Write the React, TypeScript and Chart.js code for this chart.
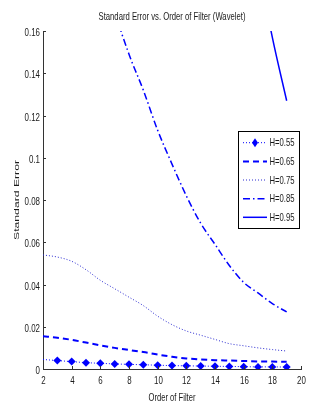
import React, { useEffect, useRef } from "react";
import { Chart, registerables } from "chart.js";

Chart.register(...registerables);

// ---- data ----
const orders = [2, 3, 4, 5, 6, 7, 8, 9, 10, 11, 12, 13, 14, 15, 16, 17, 18, 19];
const h055 = [0.0045, 0.004, 0.0035, 0.003, 0.0027, 0.0024, 0.0022, 0.002, 0.0018, 0.0016, 0.0015, 0.0014, 0.0013, 0.0012, 0.0011, 0.001, 0.001, 0.0009];
const h065 = [0.0155, 0.0148, 0.0138, 0.0125, 0.0112, 0.01, 0.009, 0.008, 0.0068, 0.0058, 0.005, 0.0045, 0.0042, 0.004, 0.0038, 0.0036, 0.0035, 0.0034];
const h075 = [0.054, 0.053, 0.051, 0.047, 0.042, 0.038, 0.034, 0.03, 0.025, 0.021, 0.018, 0.016, 0.014, 0.012, 0.011, 0.01, 0.0092, 0.0085];
const h085 = [0.4, 0.33, 0.28, 0.235, 0.2, 0.17, 0.149, 0.132, 0.113, 0.097, 0.082, 0.069, 0.059, 0.049, 0.041, 0.036, 0.031, 0.027];
const h095 = [1.8, 1.6, 1.4, 1.25, 1.1, 0.97, 0.85, 0.74, 0.64, 0.55, 0.47, 0.4, 0.34, 0.285, 0.235, 0.192, 0.157, 0.127];
const seriesLabels = ["H=0.55", "H=0.65", "H=0.75", "H=0.85", "H=0.95"];
const xTicks = [2, 4, 6, 8, 10, 12, 14, 16, 18, 20];
const yTicks = [0, 0.02, 0.04, 0.06, 0.08, 0.1, 0.12, 0.14, 0.16];
const titleText = "Standard Error vs. Order of Filter (Wavelet)";
const xTitle = "Order of Filter";
const yTitle = "Standard Error";

const BLUE = "#0000ff";
const FONT = "11px 'Liberation Sans', Arial, sans-serif";
const TXT = "#1a1a1a";
const SX = 0.72;

const styles = [
  { dash: [1, 2], width: 1, marker: true, color: BLUE },
  { dash: [6, 4], width: 2, marker: false, color: BLUE },
  { dash: [1, 2], width: 1, marker: false, color: "#2a2ad0" },
  { dash: [7, 3, 1.5, 3], width: 1.5, marker: false, color: BLUE },
  { dash: [], width: 1.5, marker: false, color: BLUE },
];

function text(ctx: CanvasRenderingContext2D, s: string, x: number, y: number, align: CanvasTextAlign, sx: number) {
  ctx.save();
  ctx.translate(x, y);
  ctx.scale(sx, 1);
  ctx.textAlign = align;
  ctx.textBaseline = "middle";
  ctx.fillText(s, 0, 0);
  ctx.restore();
}

const decor = {
  id: "decor",
  afterDatasetsDraw(chart: any) {
    const ctx: CanvasRenderingContext2D = chart.ctx;
    const xs = chart.scales.x;
    const ys = chart.scales.y;
    const area = chart.chartArea;
    ctx.save();
    ctx.font = FONT;
    ctx.fillStyle = TXT;
    ctx.strokeStyle = "#333";
    ctx.lineWidth = 1;
    // inward ticks + labels
    ys.ticks.forEach((t: any) => {
      const py = Math.round(ys.getPixelForValue(t.value)) + 0.5;
      ctx.beginPath();
      ctx.moveTo(area.left, py);
      ctx.lineTo(area.left + 3, py);
      ctx.stroke();
      text(ctx, String(t.value), area.left - 3, py + 1, "right", SX);
    });
    xs.ticks.forEach((t: any) => {
      const px = Math.round(xs.getPixelForValue(t.value)) + 0.5;
      ctx.beginPath();
      ctx.moveTo(px, area.bottom);
      ctx.lineTo(px, area.bottom - 3);
      ctx.stroke();
      text(ctx, String(t.value), px, area.bottom + 12, "center", SX);
    });
    // title
    const cx = (area.left + area.right) / 2;
    const tw = ctx.measureText(titleText).width;
    text(ctx, titleText, cx, 16.5, "center", 147 / tw);
    const xw = ctx.measureText(xTitle).width;
    text(ctx, xTitle, cx, 398, "center", 47 / xw);
    // y title
    const yw = ctx.measureText(yTitle).width;
    ctx.save();
    ctx.translate(16.5, (area.top + area.bottom) / 2);
    ctx.scale(SX, 1);
    ctx.rotate(-Math.PI / 2);
    ctx.scale(80 / yw, 1);
    ctx.textAlign = "center";
    ctx.textBaseline = "middle";
    ctx.fillText(yTitle, 0, 0);
    ctx.restore();
    // legend
    const bx = 238.5, by = 131.5, bw = 61, bh = 97;
    ctx.fillStyle = "#fff";
    ctx.fillRect(bx, by, bw, bh);
    ctx.strokeStyle = "#000";
    ctx.strokeRect(bx, by, bw, bh);
    const rowY = [142.7, 161.5, 180, 198.8, 217.3];
    seriesLabels.forEach((lab, i) => {
      const st = styles[i];
      const y = rowY[i];
      ctx.save();
      ctx.strokeStyle = st.color;
      ctx.lineWidth = st.width;
      ctx.setLineDash(st.dash);
      ctx.beginPath();
      ctx.moveTo(243, y);
      ctx.lineTo(267, y);
      ctx.stroke();
      ctx.restore();
      if (st.marker) {
        ctx.save();
        ctx.fillStyle = BLUE;
        ctx.beginPath();
        ctx.moveTo(255, y - 4.5);
        ctx.lineTo(258, y);
        ctx.lineTo(255, y + 4.5);
        ctx.lineTo(252, y);
        ctx.closePath();
        ctx.fill();
        ctx.restore();
      }
      ctx.fillStyle = TXT;
      const lw = ctx.measureText(lab).width;
      text(ctx, lab, 269.5, y + 0.5, "left", 25 / lw);
    });
    ctx.restore();
  },
};

export default function App() {
  const ref = useRef<HTMLCanvasElement | null>(null);
  useEffect(() => {
    document.body.style.margin = "0";
    const series = [h055, h065, h075, h085, h095];
    const datasets = series.map((vals, i) => {
      const st = styles[i];
      return {
        label: seriesLabels[i],
        data: orders.map((o, j) => ({ x: o, y: vals[j] })),
        borderColor: st.color,
        backgroundColor: st.color,
        borderWidth: st.width,
        borderDash: st.dash,
        pointRadius: st.marker ? orders.map((_, j) => (j === 0 ? 0 : 4)) : 0,
        pointStyle: "rectRot",
        pointBorderWidth: 0,
        cubicInterpolationMode: "monotone",
        fill: false,
      };
    });
    const chart = new Chart(ref.current!, {
      type: "line",
      data: { datasets } as any,
      options: {
        animation: false,
        responsive: false,
        devicePixelRatio: 1,
        layout: { padding: { top: 31, right: 31, left: 0, bottom: 0 } },
        plugins: { legend: { display: false }, title: { display: false }, tooltip: { enabled: false } },
        scales: {
          x: {
            type: "linear",
            min: 2,
            max: 20,
            afterBuildTicks: (s: any) => {
              s.ticks = xTicks.map((v) => ({ value: v }));
            },
            afterFit: (s: any) => {
              s.height = 46;
            },
            ticks: { display: false },
            grid: { display: true, drawOnChartArea: false, drawTicks: false },
            border: { display: true, color: "#333", width: 1 },
          },
          y: {
            type: "linear",
            min: 0,
            max: 0.16,
            afterBuildTicks: (s: any) => {
              s.ticks = yTicks.map((v) => ({ value: v }));
            },
            afterFit: (s: any) => {
              s.width = 43;
            },
            ticks: { display: false },
            grid: { display: true, drawOnChartArea: false, drawTicks: false },
            border: { display: true, color: "#333", width: 1 },
          },
        },
      } as any,
      plugins: [decor],
    });
    return () => chart.destroy();
  }, []);
  return <canvas ref={ref} width={332} height={415} style={{ display: "block" }} />;
}
